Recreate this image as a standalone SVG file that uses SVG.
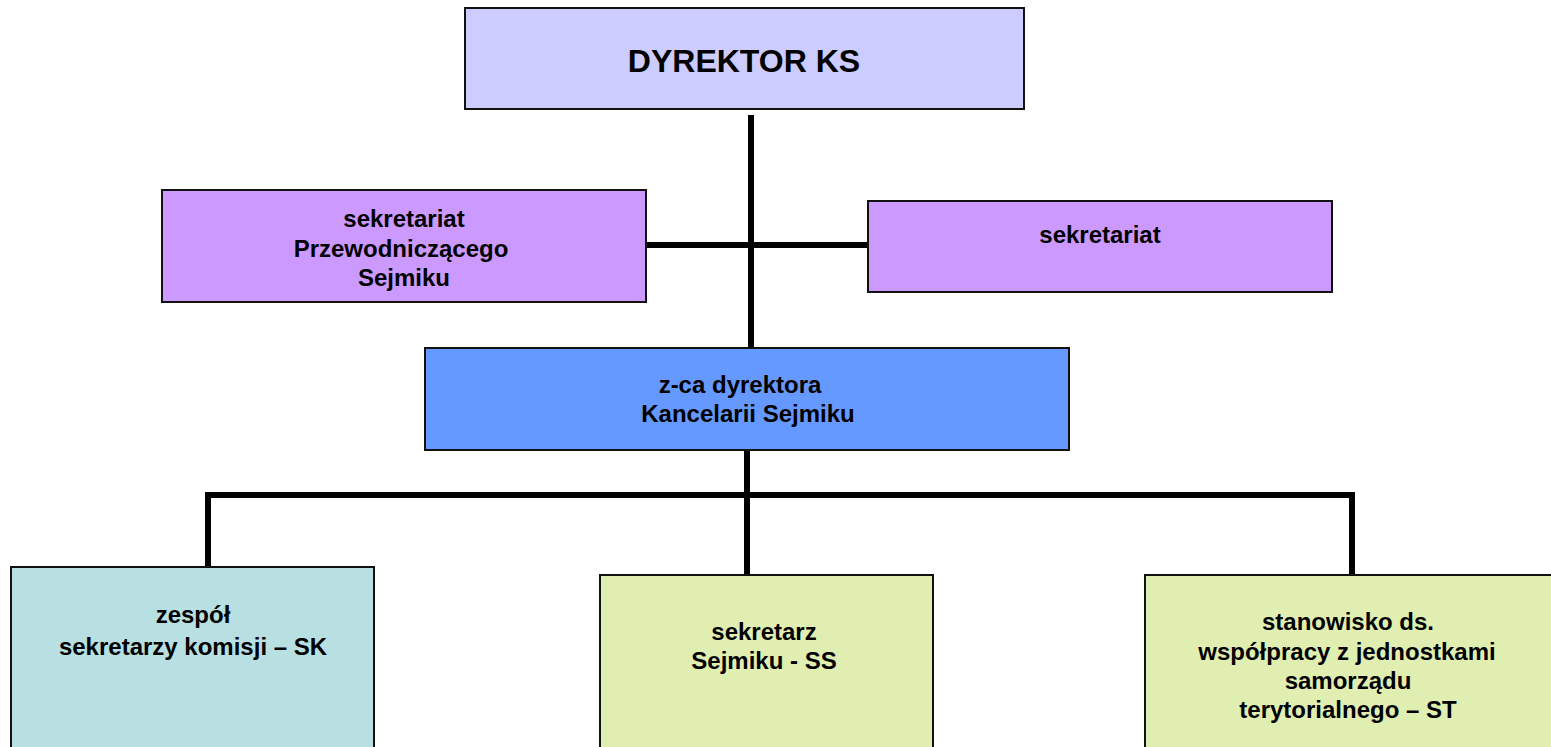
<svg xmlns="http://www.w3.org/2000/svg" width="1551" height="747" viewBox="0 0 1551 747">
<style>
.box{stroke:#111;stroke-width:2}
.t{font-family:"Liberation Sans",Arial,sans-serif;font-weight:bold;font-size:24px;fill:#000;text-anchor:middle}
.big{font-size:32px}
.ln{stroke:#000;stroke-width:6;fill:none}
</style>
<rect width="1551" height="747" fill="#fff"/>
<g id="connectors">
<line class="ln" x1="751" y1="115" x2="751" y2="356"/>
<line class="ln" x1="646" y1="245" x2="868" y2="245"/>
<line class="ln" x1="747" y1="450" x2="747" y2="575"/>
<polyline class="ln" points="208,567 208,495 1352,495 1352,575"/>
</g>
<g id="dyrektor">
<rect class="box" x="465" y="8" width="559" height="101" fill="#CCCCFF"/>
<text class="t big" x="744" y="72">DYREKTOR KS</text>
</g>
<g id="sekretariat-przewodniczacego">
<rect class="box" x="162" y="190" width="484" height="112" fill="#CC99FF"/>
<text class="t" x="404" y="227">sekretariat</text>
<text class="t" x="401" y="257">Przewodniczącego</text>
<text class="t" x="404" y="286">Sejmiku</text>
</g>
<g id="sekretariat">
<rect class="box" x="868" y="201" width="464" height="91" fill="#CC99FF"/>
<text class="t" x="1100" y="243">sekretariat</text>
</g>
<g id="zca-dyrektora">
<rect class="box" x="425" y="348" width="644" height="102" fill="#6699FF"/>
<text class="t" x="740" y="393">z-ca dyrektora</text>
<text class="t" x="748" y="422">Kancelarii Sejmiku</text>
</g>
<g id="sk">
<rect class="box" x="11" y="567" width="363" height="190" fill="#B8DFE1"/>
<text class="t" x="193" y="623">zespół</text>
<text class="t" x="193" y="655">sekretarzy komisji – SK</text>
</g>
<g id="ss">
<rect class="box" x="600" y="575" width="333" height="182" fill="#E0EFB1"/>
<text class="t" x="764" y="640">sekretarz</text>
<text class="t" x="764" y="669">Sejmiku - SS</text>
</g>
<g id="st">
<rect class="box" x="1145" y="575" width="416" height="182" fill="#E0EFB1"/>
<text class="t" x="1348" y="630">stanowisko ds.</text>
<text class="t" x="1347" y="660">współpracy z jednostkami</text>
<text class="t" x="1348" y="689">samorządu</text>
<text class="t" x="1348" y="718">terytorialnego – ST</text>
</g>
</svg>
